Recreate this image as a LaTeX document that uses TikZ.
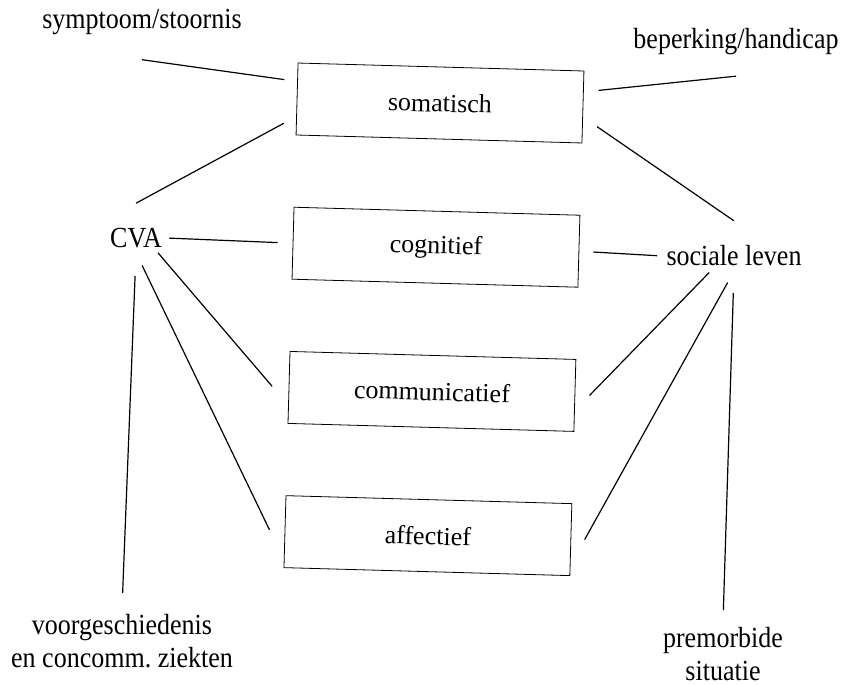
\documentclass[tikz,border=0pt]{standalone}
\usepackage{fontspec}
\setmainfont{Liberation Serif}
\usetikzlibrary{positioning}

\begin{document}
\begin{tikzpicture}[
  x=0.5pt, y=-0.5pt,
  font=\fontsize{13}{15}\selectfont, node distance=35.75pt,
  dim/.style={draw, rectangle, rotate=-1.6, minimum width=143pt, minimum height=36pt, inner sep=2pt},
  lbl/.style={inner sep=2pt, align=center, yscale=1.12},
  lnk/.style={line width=0.6pt}
]
  \useasboundingbox (0,0) rectangle (848,685);

  % the four dimensions
  \node[dim] (soma) at (440,103) {somatisch};
  \node[dim, below=of soma, xshift=-1pt] (cog) {cognitief};
  \node[dim, below=of cog, xshift=-1pt] (comm) {communicatief};
  \node[dim, below=of comm, xshift=-1pt] (aff) {affectief};

  \node[lbl] (symp) at (142,22) {symptoom/stoornis};
  \node[lbl] (bep) at (736,42) {beperking/handicap};
  \node[lbl] (cva) at (136,238) {CVA};
  \node[lbl] (soc) at (734,256) {sociale leven};
  \node[lbl] (voor) at (122,641) {voorgeschiedenis\\en concomm.\ ziekten};
  \node[lbl] (prem) at (723,654) {premorbide\\situatie};

  \draw[lnk, shorten >=6.5pt] ([yshift=-10pt]symp.south) -- (soma.173);
  \draw[lnk, shorten <=7.5pt] (soma.6) -- ([yshift=-8pt]bep.south);
  \draw[lnk, shorten >=7pt] ([yshift=10pt]cva.north) -- (soma.187);
  \draw[lnk, shorten <=8.5pt] (soma.-4) -- ([yshift=10pt]soc.north);

  \draw[lnk, shorten <=1.5pt, shorten >=7.5pt] (cva.east) -- (cog.west);
  \draw[lnk, shorten <=7pt, shorten >=2.5pt] (cog.east) -- (soc.west);
  \draw[lnk, shorten >=12.3pt] (cva.329) -- (comm.187);
  \draw[lnk, shorten <=10.5pt, shorten >=1pt] (comm.-6) -- (soc.210);
  \draw[lnk, shorten <=7pt, shorten >=16.5pt] (cva.south) -- (aff.191);
  \draw[lnk, shorten <=14.5pt, shorten >=6.5pt] (aff.-10) -- (soc.south);

  \draw[lnk, shorten <=11.7pt, shorten >=8pt] (cva.south) -- (voor.north);
  \draw[lnk, shorten <=11pt, shorten >=6pt] (soc.south) -- (prem.north);
\end{tikzpicture}
\end{document}
